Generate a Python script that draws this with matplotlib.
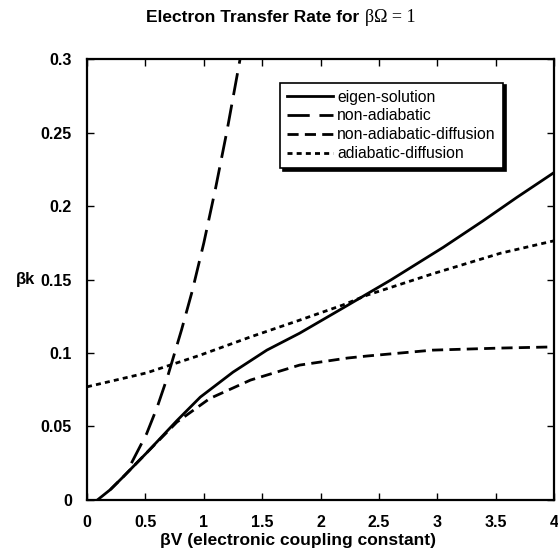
import matplotlib
matplotlib.use("Agg")
import matplotlib.pyplot as plt

plt.rcParams["font.family"] = ["Liberation Sans", "DejaVu Sans"]
plt.rcParams["lines.scale_dashes"] = False

# values
v_eigen = [0.09, 0.2, 0.31, 0.51, 0.77, 0.97, 1.25, 1.54, 1.82, 2.19, 2.6, 3.05, 3.39, 3.68, 4.0]
k_eigen = [0.0, 0.007, 0.0157, 0.032, 0.054, 0.070, 0.087, 0.102, 0.1135, 0.1306, 0.1497, 0.172, 0.190, 0.206, 0.223]

v_nonad = [0.38, 0.51, 0.6, 0.69, 0.81, 0.9, 1.0, 1.1, 1.2, 1.31]
k_nonad = [0.025, 0.045, 0.063, 0.084, 0.116, 0.142, 0.175, 0.212, 0.252, 0.300]

v_nonad_diff = [0.2, 0.31, 0.51, 0.77, 1.05, 1.4, 1.82, 2.23, 2.4, 2.96, 3.54, 4.0]
k_nonad_diff = [0.007, 0.0157, 0.032, 0.053, 0.069, 0.0816, 0.0918, 0.0966, 0.098, 0.102, 0.1034, 0.1042]

v_ad_diff = [0.0, 0.51, 0.97, 1.40, 1.82, 2.19, 2.40, 2.96, 3.54, 4.0]
k_ad_diff = [0.077, 0.0865, 0.0986, 0.111, 0.1224, 0.1327, 0.1395, 0.154, 0.168, 0.1765]

x_ticks = [0, 0.5, 1, 1.5, 2, 2.5, 3, 3.5, 4]
y_ticks = [0, 0.05, 0.1, 0.15, 0.2, 0.25, 0.3]

fig = plt.figure(figsize=(5.58, 5.56), dpi=100)
ax = fig.add_axes([0.156, 0.101, 0.837, 0.792])

lw = 2.0
ax.plot(v_eigen, k_eigen, color="black", lw=lw, label="eigen-solution")
ax.plot(v_nonad, k_nonad, color="black", lw=lw, dashes=(16, 7), label="non-adiabatic")
ax.plot(v_nonad_diff, k_nonad_diff, color="black", lw=lw, dashes=(8, 4.5),
        label="non-adiabatic-diffusion")
ax.plot(v_ad_diff, k_ad_diff, color="black", lw=lw, dashes=(3.6, 3),
        label="adiabatic-diffusion")

ax.set_xlim(0, 4)
ax.set_ylim(0, 0.3)
ax.set_xticks(x_ticks)
ax.set_xticklabels([f"{t:g}" for t in x_ticks])
ax.set_yticks(y_ticks)
ax.set_yticklabels([f"{t:g}" for t in y_ticks])
ax.tick_params(direction="in", top=True, right=True, length=5, width=1,
               labelsize=11.5, pad=11)
for lbl in ax.get_xticklabels() + ax.get_yticklabels():
    lbl.set_fontweight("bold")
for s in ax.spines.values():
    s.set_linewidth(1.6)

ax.set_ylabel("βk", rotation=0, fontsize=12, fontweight="bold", ha="right", va="center")
ax.yaxis.set_label_coords(-0.112, 0.5)
fig.text(298 / 558, 1 - 541 / 556, "βV (electronic coupling constant)",
         ha="center", va="center", fontsize=12.5, fontweight="bold")

fig.text(359 / 558, 1 - 18 / 556, "Electron Transfer Rate for",
         ha="right", va="center", fontsize=12.5, fontweight="bold")
fig.text(365 / 558, 1 - 18 / 556, "βΩ = 1", ha="left", va="center",
         fontsize=13, family=["Liberation Serif", "DejaVu Serif"])

leg = ax.legend(loc="upper left", bbox_to_anchor=((280 - 87) / 467, 1 - (83 - 60) / 440),
                frameon=True, fancybox=False, shadow={"color": "black", "alpha": 1},
                edgecolor="black", framealpha=1, fontsize=11.3, handlelength=2.9,
                handletextpad=0.3, labelspacing=0.25, borderpad=0.45, borderaxespad=0)
leg.get_frame().set_linewidth(1.2)

fig.savefig("out.png", dpi=100)
